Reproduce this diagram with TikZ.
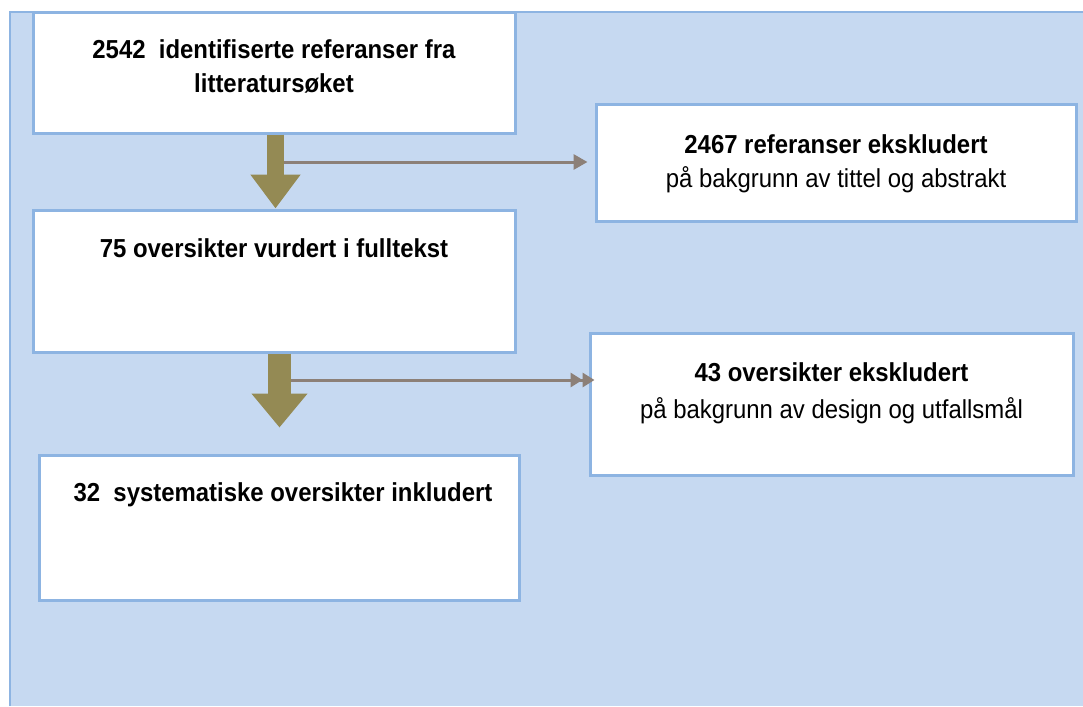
\documentclass[tikz,border=0pt]{standalone}
\usepackage{fontspec}
\setmainfont{Liberation Sans}[FakeStretch=0.92]
\usetikzlibrary{arrows.meta}
\definecolor{panelblue}{RGB}{198,217,241}
\definecolor{edgeblue}{RGB}{141,180,226}
\definecolor{olivearrow}{RGB}{148,138,84}
\definecolor{greyarrow}{RGB}{140,128,120}
\tikzset{
  flowbox/.style={draw=edgeblue, line width=3pt, fill=white, inner sep=0pt},
  flowtext/.style={align=center, anchor=base, font=\fontsize{26}{34}\selectfont},
  bigarrow/.style={draw=olivearrow, -{Triangle[width=#1, length=34pt]}},
  thinarrow/.style={draw=greyarrow, line width=3pt, -{Triangle[width=15pt, length=14pt]}}
}
\begin{document}
\begin{tikzpicture}[x=1pt, y=-1pt]
            \useasboundingbox (0,0) rectangle (1083,706);
            \fill [panelblue] (10,12) rectangle (1083,706);
            \draw [edgeblue, line width=2pt] (10,706) -- (10,12) -- (1083,12);
            \node [flowbox, minimum width=482pt, minimum height=120pt] (ident) at (274,73) {};
            \node [flowbox, minimum width=482pt, minimum height=142pt] (fulltext) at (274,281) {};
            \node [flowbox, minimum width=480pt, minimum height=145pt] (incl) at (279,527.5) {};
            \node [flowbox, minimum width=480pt, minimum height=116pt] (exclA) at (836,163) {};
            \node [flowbox, minimum width=483pt, minimum height=142pt] (exclB) at (831.5,404) {};
            \node [flowtext] (identtxt) at ([yshift=-81pt]ident.north) {\textbf{2542\ \ identifiserte referanser fra}\\\textbf{litteratursøket}};
            \node [flowtext] (fulltexttxt) at ([yshift=-49pt]fulltext.north) {\textbf{75 oversikter vurdert i fulltekst}};
            \node [flowtext] (incltxt) at ([xshift=4pt, yshift=-48pt]incl.north) {\textbf{32\ \ systematiske oversikter inkludert}};
            \node [flowtext] (exclAtxt) at ([yshift=-84pt]exclA.north) {\textbf{2467 referanser ekskludert}\\på bakgrunn av tittel og abstrakt};
            \node [flowtext, font=\fontsize{26}{37}\selectfont] (exclBtxt) at ([yshift=-87pt]exclB.north) {\textbf{43 oversikter ekskludert}\\på bakgrunn av design og utfallsmål};
            \coordinate (splitA) at (284,162);
            \coordinate (splitB) at (291,380);
            \draw [bigarrow=48pt, line width=17pt] (ident.south -| 275.5,0) -- (fulltext.north -| 275.5,0);
            \draw [bigarrow=54pt, line width=23pt, shorten >=26pt] (fulltext.south -| 279.5,0) -- (incl.north -| 279.5,0);
            \draw [thinarrow, shorten >=7pt] (splitA) -- (exclA.west |- splitA);
            \draw [draw=greyarrow, line width=3pt, -{Triangle[width=14pt, length=12pt] Triangle[width=14pt, length=12pt, sep=-2pt]}, shorten >=-4pt] (splitB) -- (exclB.west |- splitB);
        \end{tikzpicture}
\end{document}
